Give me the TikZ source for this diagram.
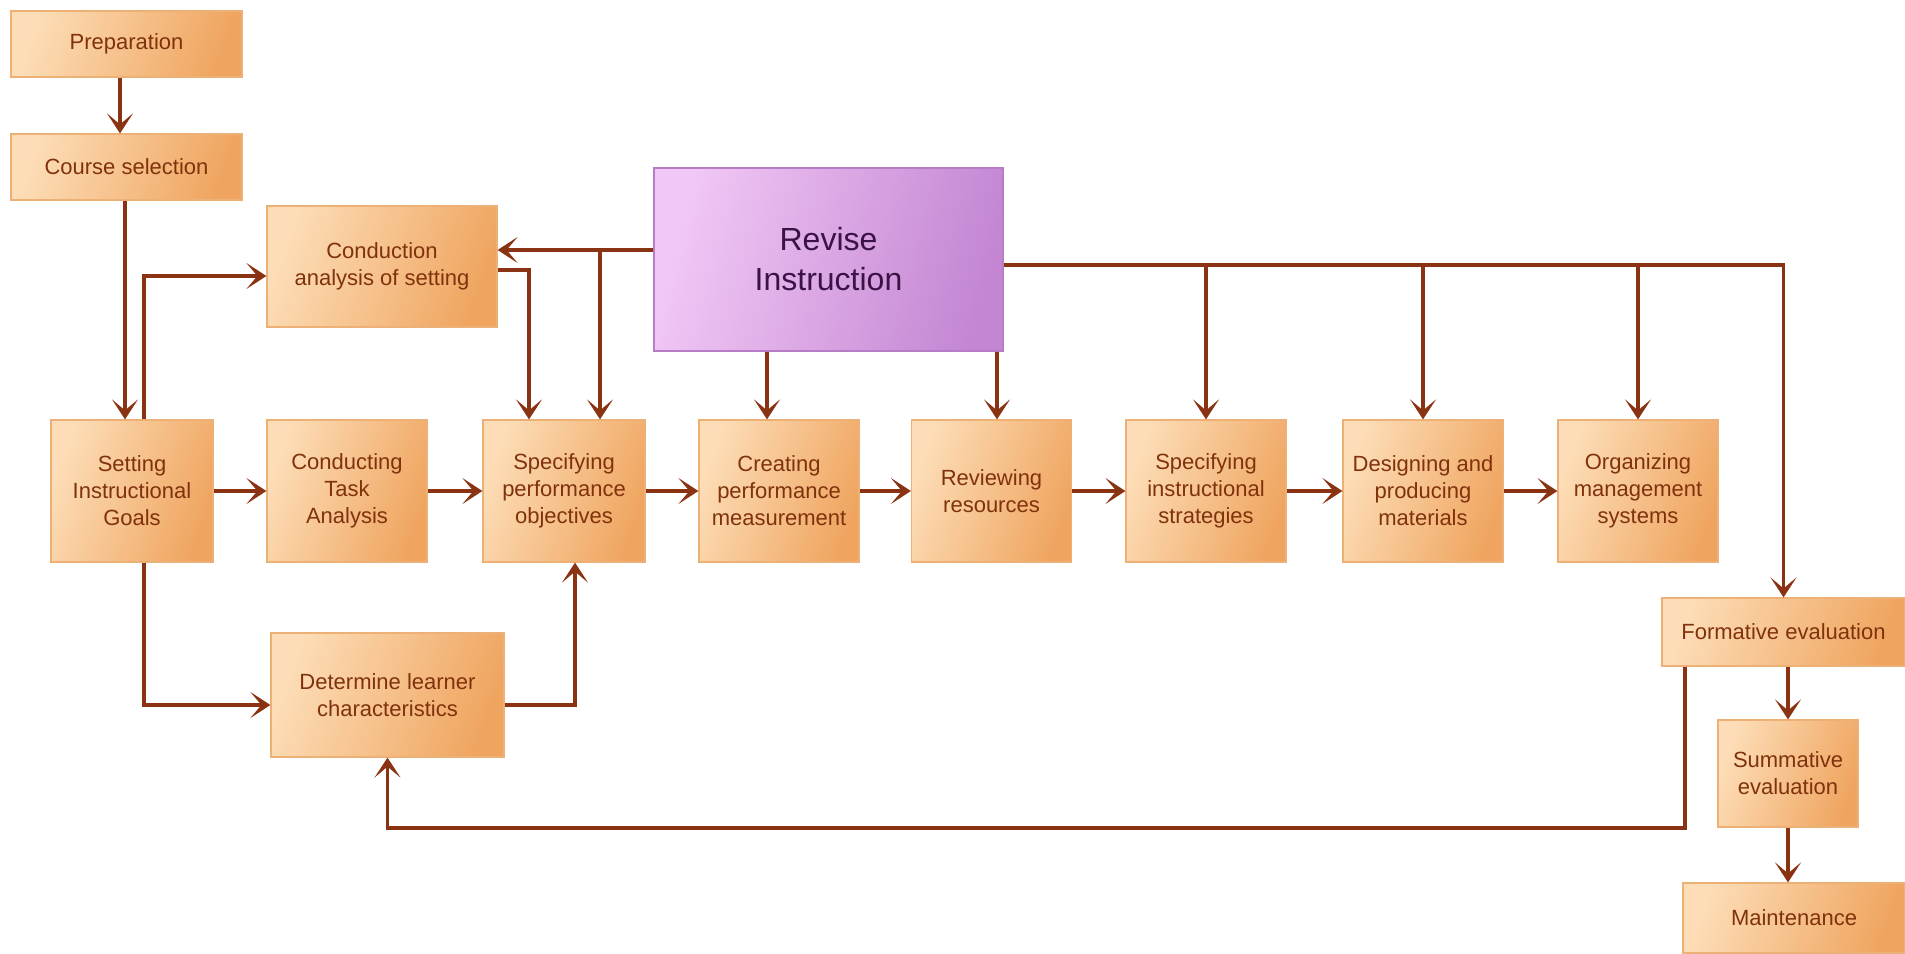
\documentclass[tikz,border=0pt]{standalone}
\usepackage{fontspec}
\setmainfont{Liberation Sans}
\usetikzlibrary{arrows.meta,calc}
\definecolor{boxL}{HTML}{FDDDB7}
\definecolor{boxR}{HTML}{EFA560}
\definecolor{boxB}{HTML}{EDB077}
\definecolor{txt}{HTML}{80320C}
\definecolor{lnc}{HTML}{8A3312}
\definecolor{revL}{HTML}{F1C8F5}
\definecolor{revR}{HTML}{C486D3}
\definecolor{revB}{HTML}{B77CC6}
\definecolor{revT}{HTML}{3A1246}
\begin{document}
\begin{tikzpicture}[x=1pt,y=-1pt,
 box/.style={draw=boxB, line width=1.2pt, left color=boxL, right color=boxR, shading angle=70, text=txt, align=center, font=\fontsize{22}{27}\selectfont, inner sep=0pt},
 rowbox/.style={box, minimum width=160pt, minimum height=142pt},
 revbox/.style={draw=revB, line width=1.5pt, left color=revL, right color=revR, shading angle=75, text=revT, align=center, font=\fontsize{32}{40}\selectfont, inner sep=0pt},
 arr/.style={draw=lnc, line width=3.5pt, -{Stealth[length=20pt,width=26pt,inset=11pt]}}
]
\useasboundingbox (0,0) rectangle (1905,953);

% nodes
\node[box, minimum width=231pt, minimum height=66pt] (prep) at (126.5,44) {Preparation};
\node[box, minimum width=231pt, minimum height=66pt] (course) at (126.5,167) {Course selection};
\node[box, minimum width=230pt, minimum height=121pt] (condA) at (382,266.5) {Conduction\\analysis of setting};
\node[revbox, minimum width=349pt, minimum height=183pt] (revise) at (828.5,259.5) {Revise\\Instruction};

\node[rowbox, minimum width=162pt] (goals) at (132,491) {Setting\\Instructional\\Goals};
\node[rowbox] (task) at (347,491) {Conducting\\Task\\Analysis};
\node[rowbox, minimum width=162pt] (specperf) at (564,491) {Specifying\\performance\\objectives};
\node[rowbox] (creating) at (779,491) {Creating\\performance\\measurement};
\node[rowbox] (reviewing) at (991.5,491) {Reviewing\\resources};
\node[rowbox] (specinst) at (1206,491) {Specifying\\instructional\\strategies};
\node[rowbox] (designing) at (1423,491) {Designing and\\producing\\materials};
\node[rowbox] (organizing) at (1638,491) {Organizing\\management\\systems};

\node[box, minimum width=233pt, minimum height=124pt] (determine) at (387.5,695) {Determine learner\\characteristics};
\node[box, minimum width=243pt, minimum height=68pt] (formative) at (1783.5,632) {Formative evaluation};
\node[box, minimum width=140pt, minimum height=107pt] (summative) at (1788,773.5) {Summative\\evaluation};
\node[box, minimum width=222pt, minimum height=70pt] (maintenance) at (1794,918) {Maintenance};

% helper levels
\coordinate (L250) at (0,250);
\coordinate (L265) at (0,265);
\coordinate (L270) at (0,270);
\coordinate (L276) at (0,276);
\coordinate (L705) at (0,705);
\coordinate (L828) at (0,828);
\coordinate (X600) at (600,250);
\coordinate (X767) at (767,0);
\coordinate (X997) at (997,0);
\coordinate (X1685) at (1685,0);

% connectors
\draw[arr] ([xshift=-6.5pt]prep.south) -- ([xshift=-6.5pt]course.north);
\draw[arr] ([xshift=-1.5pt]course.south) -- ([xshift=-1.5pt]course.south |- goals.north);
\draw[arr] ([xshift=12pt]goals.north) |- (condA.west |- L276);
\draw[arr] ([xshift=12pt]goals.south) |- (determine.west |- L705);
\draw[arr] (determine.east |- L705) -| ([xshift=11pt]specperf.south);
\draw[arr] (condA.east |- L270) -| ([xshift=-35pt]specperf.north);
\draw[arr] (revise.west |- L250) -- (condA.east |- L250);
\draw[arr] (X600) -- (X600 |- specperf.north);
\draw[arr] (X767 |- revise.south) -- (X767 |- creating.north);
\draw[arr] (X997 |- revise.south) -- (X997 |- reviewing.north);
\draw[arr] (revise.east |- L265) -| (formative.north);
\draw[arr] (specinst.north |- L265) -- (specinst.north);
\draw[arr] (designing.north |- L265) -- (designing.north);
\draw[arr] (organizing.north |- L265) -- (organizing.north);

\draw[arr] (goals) -- (task);
\draw[arr] (task) -- (specperf);
\draw[arr] (specperf) -- (creating);
\draw[arr] (creating) -- (reviewing);
\draw[arr] (reviewing) -- (specinst);
\draw[arr] (specinst) -- (designing);
\draw[arr] (designing) -- (organizing);

\draw[arr] (formative.south -| summative.north) -- (summative.north);
\draw[arr] (summative.south) -- (summative.south |- maintenance.north);
\draw[arr] (X1685 |- formative.south) -- (X1685 |- L828) -| (determine.south);
\end{tikzpicture}
\end{document}
